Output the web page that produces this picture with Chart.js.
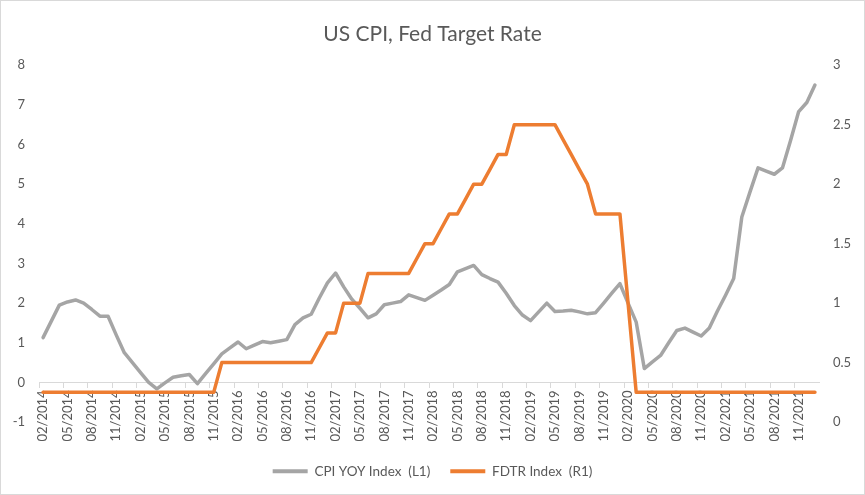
<!DOCTYPE html>
<html>
<head>
<meta charset="utf-8">
<script src="https://cdn.jsdelivr.net/npm/chart.js@4.4.0/dist/chart.umd.min.js"></script>
<style>
  html, body { margin: 0; padding: 0; background: #fff; }
  #myChart { display: block; }
</style>
</head>
<body>
<canvas id="myChart" width="865" height="495"></canvas>
<script>
// months shown on the category axis, 02/2014 .. 01/2022
var startYear = 2014, startMonth = 2, monthCount = 96;
var months = [];
for (var m = 0; m < monthCount; m++) {
    var mm = (startMonth - 1 + m) % 12 + 1;
    var yy = startYear + Math.floor((startMonth - 1 + m) / 12);
    months.push((mm < 10 ? '0' : '') + mm + '/' + yy);
}

// CPI YOY Index (left axis, %)
var cpiYoy = [
    1.13, 1.54, 1.95, 2.03, 2.08, 2.0, 1.84, 1.67, 1.67, 1.2, 0.75, 0.5,
    0.25, 0.0, -0.16, -0.01, 0.13, 0.17, 0.2, -0.03, 0.22, 0.47, 0.72, 0.87,
    1.02, 0.85, 0.94, 1.03, 1.0, 1.04, 1.08, 1.46, 1.63, 1.72, 2.13, 2.51,
    2.76, 2.41, 2.1, 1.87, 1.63, 1.73, 1.96, 2.0, 2.04, 2.21, 2.14, 2.07,
    2.2, 2.33, 2.47, 2.79, 2.87, 2.95, 2.72, 2.62, 2.53, 2.25, 1.94, 1.7,
    1.56, 1.78, 2.0, 1.79, 1.8, 1.82, 1.78, 1.73, 1.76, 2.0, 2.25, 2.49,
    2.0, 1.52, 0.35, 0.52, 0.68, 1.0, 1.31, 1.37, 1.27, 1.17, 1.37, 1.8,
    2.2, 2.62, 4.17, 4.8, 5.41, 5.33, 5.25, 5.41, 6.1, 6.83, 7.06, 7.5
];

// FDTR Index (right axis, %)
var fdtr = [
    0.25, 0.25, 0.25, 0.25, 0.25, 0.25, 0.25, 0.25, 0.25, 0.25, 0.25, 0.25,
    0.25, 0.25, 0.25, 0.25, 0.25, 0.25, 0.25, 0.25, 0.25, 0.25, 0.5, 0.5,
    0.5, 0.5, 0.5, 0.5, 0.5, 0.5, 0.5, 0.5, 0.5, 0.5, 0.625, 0.75,
    0.75, 1.0, 1.0, 1.0, 1.25, 1.25, 1.25, 1.25, 1.25, 1.25, 1.375, 1.5,
    1.5, 1.625, 1.75, 1.75, 1.875, 2.0, 2.0, 2.125, 2.25, 2.25, 2.5, 2.5,
    2.5, 2.5, 2.5, 2.5, 2.375, 2.25, 2.125, 2.0, 1.75, 1.75, 1.75, 1.75,
    1.0, 0.25, 0.25, 0.25, 0.25, 0.25, 0.25, 0.25, 0.25, 0.25, 0.25, 0.25,
    0.25, 0.25, 0.25, 0.25, 0.25, 0.25, 0.25, 0.25, 0.25, 0.25, 0.25, 0.25
];

var leftTicks = { min: -1, max: 8, step: 1 };
var rightTicks = { min: 0, max: 3, step: 0.5 };

var textColor = '#595959';
var font = 'Lato';

var frame = {
    id: 'frame',
    beforeDraw: function(chart) {
        var c = chart.ctx;
        c.save();
        c.fillStyle = '#fff';
        c.fillRect(0, 0, chart.width, chart.height);
        c.restore();
    },
    afterDraw: function(chart) {
        var c = chart.ctx;
        c.save();
        c.strokeStyle = '#d9d9d9';
        c.lineWidth = 1;
        c.strokeRect(0.5, 0.5, chart.width - 1, chart.height - 1);
        c.restore();
    }
};

var data = {
    labels: months,
    datasets: [
        {
            label: 'CPI YOY Index  (L1)',
            data: cpiYoy,
            yAxisID: 'y',
            borderColor: '#A5A5A5',
            backgroundColor: '#A5A5A5',
            borderWidth: 3.5,
            order: 1
        },
        {
            label: 'FDTR Index  (R1)',
            data: fdtr,
            yAxisID: 'y1',
            borderColor: '#ED7D31',
            backgroundColor: '#ED7D31',
            borderWidth: 3.5,
            order: 0
        }
    ]
};

ctx = document.getElementById('myChart');
var myChart = new Chart(ctx, {
    type: 'line',
    data: data,
    plugins: [frame],
    options: {
        responsive: false,
        animation: false,
        devicePixelRatio: 1,
        layout: { padding: { left: 0, right: 0, top: 0, bottom: 7 } },
        elements: {
            point: { radius: 0 },
            line: { tension: 0, fill: false, borderJoinStyle: 'round', borderCapStyle: 'round' }
        },
        plugins: {
            title: {
                display: true,
                text: 'US CPI, Fed Target Rate',
                color: textColor,
                font: { family: font, size: 21, weight: 'normal' },
                padding: { top: 22, bottom: 18 }
            },
            legend: {
                position: 'bottom',
                title: { display: true, text: '', padding: 4 },
                labels: {
                    color: textColor,
                    font: { family: font, size: 13.5 },
                    boxWidth: 35,
                    boxHeight: 4,
                    padding: 20,
                    sort: function(a, b) { return a.datasetIndex - b.datasetIndex; },
                    generateLabels: function(chart) {
                        var items = Chart.defaults.plugins.legend.labels.generateLabels(chart);
                        items.forEach(function(it) { it.lineWidth = 0; });
                        return items;
                    }
                }
            },
            tooltip: { enabled: false }
        },
        scales: {
            x: {
                type: 'category',
                position: { y: 0 },
                offset: true,
                border: { display: true, color: '#d9d9d9', width: 1 },
                grid: {
                    offset: true,
                    drawOnChartArea: false,
                    drawTicks: true,
                    tickLength: 5,
                    color: 'transparent',
                    tickColor: function(c) { return c.index % 3 === 0 ? '#d9d9d9' : 'transparent'; }
                },
                ticks: {
                    autoSkip: false,
                    minRotation: 90,
                    maxRotation: 90,
                    padding: 3,
                    color: textColor,
                    font: { family: font, size: 13 },
                    callback: function(val, idx) {
                        return idx % 3 === 0 ? this.getLabelForValue(val) : '';
                    }
                }
            },
            y: {
                position: 'left',
                min: leftTicks.min,
                max: leftTicks.max,
                grid: { display: false, drawTicks: false },
                border: { display: false },
                ticks: {
                    stepSize: leftTicks.step,
                    padding: 14,
                    color: textColor,
                    font: { family: font, size: 13 }
                },
                afterFit: function(s) { s.width = 39; }
            },
            y1: {
                position: 'right',
                min: rightTicks.min,
                max: rightTicks.max,
                grid: { display: false, drawTicks: false },
                border: { display: false },
                ticks: {
                    stepSize: rightTicks.step,
                    padding: 14,
                    color: textColor,
                    font: { family: font, size: 13 },
                    callback: function(v) { return String(v); }
                },
                afterFit: function(s) { s.width = 46; }
            }
        }
    }
});
</script>
</body>
</html>
